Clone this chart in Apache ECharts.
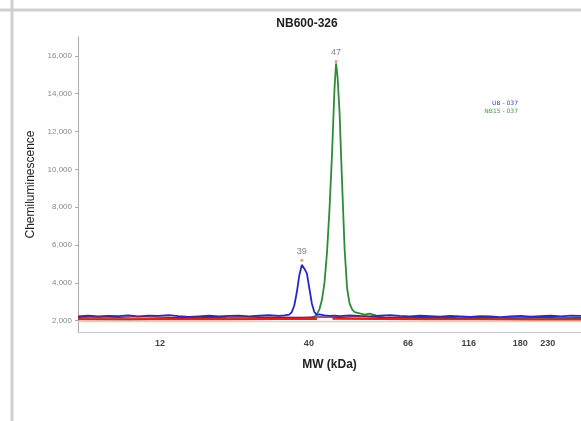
<!DOCTYPE html>
<html>
<head>
<meta charset="utf-8">
<script src="https://cdn.jsdelivr.net/npm/echarts@6/dist/echarts.min.js"></script>
<style>html,body{margin:0;padding:0;background:#fff;}#c{width:581px;height:421px;}</style>
</head>
<body>
<div id="c"></div>
<script>
// Chart title
const chartTitle = 'NB600-326';
// X axis: migration position (0-100) with MW tick labels
const mwTickPos = [16.3, 45.9, 65.6, 77.7, 87.9, 93.4];
const mwTickLabels = ['12', '40', '66', '116', '180', '230'];
const yTicks = [2000, 4000, 6000, 8000, 10000, 12000, 14000, 16000];

// Blue trace (UB - 037)
const blueX = [0,2,4,6,8,10,12,14,16,18,20,22,24,26,28,30,32,34,36,38,40,41,42,42.5,43,43.5,44,44.5,45,45.5,46,46.5,47,47.5,48,49,50,51,52,54,56,58,60,62,64,66,68,70,72,74,76,78,80,82,84,86,88,90,92,94,96,98,100];
const blueY = [2230,2260,2220,2250,2240,2280,2230,2270,2250,2290,2240,2200,2230,2260,2220,2250,2270,2230,2260,2290,2250,2280,2320,2450,2800,3500,4400,4950,4750,4500,3700,2900,2450,2300,2330,2280,2250,2270,2240,2280,2250,2230,2260,2290,2250,2220,2260,2240,2210,2250,2230,2200,2240,2220,2190,2230,2250,2210,2240,2260,2230,2270,2250];

// Green trace (NB15 - 037)
const greenX = [0,10,20,30,38,40,42,44,46,47,47.5,48,48.5,49,49.5,50,50.5,51,51.3,51.6,52,52.5,53,53.5,54,54.5,55,56,57,58,59,60,61,70,80,90,100];
const greenY = [2080,2070,2090,2080,2090,2100,2110,2120,2140,2200,2350,2600,3100,4000,5600,7900,10800,14300,15600,14900,13000,9300,5800,3700,2900,2600,2450,2380,2320,2370,2290,2200,2150,2100,2090,2080,2090];

// Maroon baseline trace
const maroonX = [0,4,8,12,16,20,24,28,32,36,40,44,48,52,56,60,64,68,72,76,80,84,88,92,96,100];
const maroonY = [2180,2200,2170,2210,2190,2160,2190,2170,2200,2180,2190,2170,2200,2180,2210,2170,2190,2160,2180,2150,2170,2160,2140,2170,2150,2160];

// Red baseline trace
const redX = [0,10,20,30,40,47.5,47.6,50.5,50.6,60,70,80,90,100];
const redY = [2080,2080,2090,2080,2090,2090,null,null,2100,2090,2080,2070,2060,2060];

// Orange baseline trace
const orangeX = [0,20,40,47,100];
const orangeY = [1960,1960,1960,1960,1960];

// Peak labels
const peakX = [51.3, 44.5];
const peakY = [15700, 5200];
const peakLabels = ['47', '39'];

const zip = (xs, ys) => xs.map((x, i) => [x, ys[i]]);

const chart = echarts.init(document.getElementById('c'));
chart.setOption({
  animation: false,
  title: {
    text: chartTitle, left: 302, top: 13, textAlign: 'center',
    textStyle: { fontSize: 12, fontWeight: 'bold', color: '#222', fontFamily: 'Liberation Sans, Arial' }
  },
  legend: {
    orient: 'vertical', right: 53, top: 95, itemGap: 2, icon: 'none', itemWidth: 0, itemHeight: 6, align: 'right',
    textStyle: { fontSize: 6, fontFamily: 'DejaVu Sans' },
    data: [
      { name: 'UB - 037', textStyle: { color: '#3a3ad0' } },
      { name: 'NB15 - 037', textStyle: { color: '#3a9a3a' } }
    ]
  },
  grid: { left: 78, right: 0, top: 37, bottom: 89 },
  xAxis: {
    type: 'value', min: 0, max: 100,
    name: 'MW (kDa)', nameLocation: 'middle', nameGap: 27,
    nameTextStyle: { fontSize: 12, fontWeight: 'bold', color: '#222', fontFamily: 'Liberation Sans, Arial' },
    axisLine: { show: true, lineStyle: { color: '#c8c8d0' } },
    axisTick: { show: false },
    splitLine: { show: false },
    axisLabel: {
      customValues: mwTickPos, margin: 7,
      formatter: (v) => { const i = mwTickPos.findIndex(p => Math.abs(p - v) < 1e-6); return i >= 0 ? mwTickLabels[i] : ''; },
      fontSize: 9, fontWeight: 'bold', color: '#444', fontFamily: 'Liberation Sans, Arial'
    }
  },
  yAxis: {
    type: 'value', min: 1400, max: 17000,
    name: 'Chemiluminescence', nameLocation: 'middle', nameGap: 41, nameRotate: 90,
    nameTextStyle: { fontSize: 12, color: '#222', fontFamily: 'Liberation Sans, Arial' },
    axisLine: { show: true, lineStyle: { color: '#aaaaaa' } },
    axisTick: { show: true, customValues: yTicks, length: 3, lineStyle: { color: '#aaaaaa' } },
    splitLine: { show: false },
    axisLabel: {
      customValues: yTicks, margin: 6,
      formatter: (v) => v.toLocaleString('en-US'),
      fontSize: 8, color: '#888', fontFamily: 'Liberation Sans, Arial'
    }
  },
  series: [
    { type: 'line', name: 'orange', data: zip(orangeX, orangeY), symbol: 'none', lineStyle: { color: '#f3c9a8', width: 1.5 }, z: 1 },
    { type: 'line', name: 'NB15 - 037', data: zip(greenX, greenY), symbol: 'none', lineStyle: { color: '#2e8b3a', width: 1.8 }, itemStyle: { color: '#2e8b3a' }, z: 2 },
    { type: 'line', name: 'red', data: zip(redX, redY), symbol: 'none', connectNulls: false, lineStyle: { color: '#e02020', width: 2 }, z: 3 },
    { type: 'line', name: 'UB - 037', data: zip(blueX, blueY), symbol: 'none', lineStyle: { color: '#2828c8', width: 1.8 }, itemStyle: { color: '#2828c8' }, z: 4 },
    { type: 'line', name: 'maroon', data: zip(maroonX, maroonY), symbol: 'none', lineStyle: { color: '#7a2050', width: 1.3 }, z: 5 },
    {
      type: 'scatter', name: 'peaks', data: zip(peakX, peakY), symbolSize: 3,
      itemStyle: { color: '#f08060' }, z: 6,
      label: { show: true, position: 'top', distance: 3, formatter: (p) => peakLabels[p.dataIndex], fontSize: 9, color: '#666', fontFamily: 'Liberation Sans, Arial' }
    }
  ],
  graphic: [
    { type: 'line', shape: { x1: 0, y1: 10, x2: 581, y2: 10 }, style: { stroke: '#d0d0d0', lineWidth: 3 } },
    { type: 'line', shape: { x1: 12, y1: 0, x2: 12, y2: 421 }, style: { stroke: '#d0d0d0', lineWidth: 3 } }
  ]
});
</script>
</body>
</html>
